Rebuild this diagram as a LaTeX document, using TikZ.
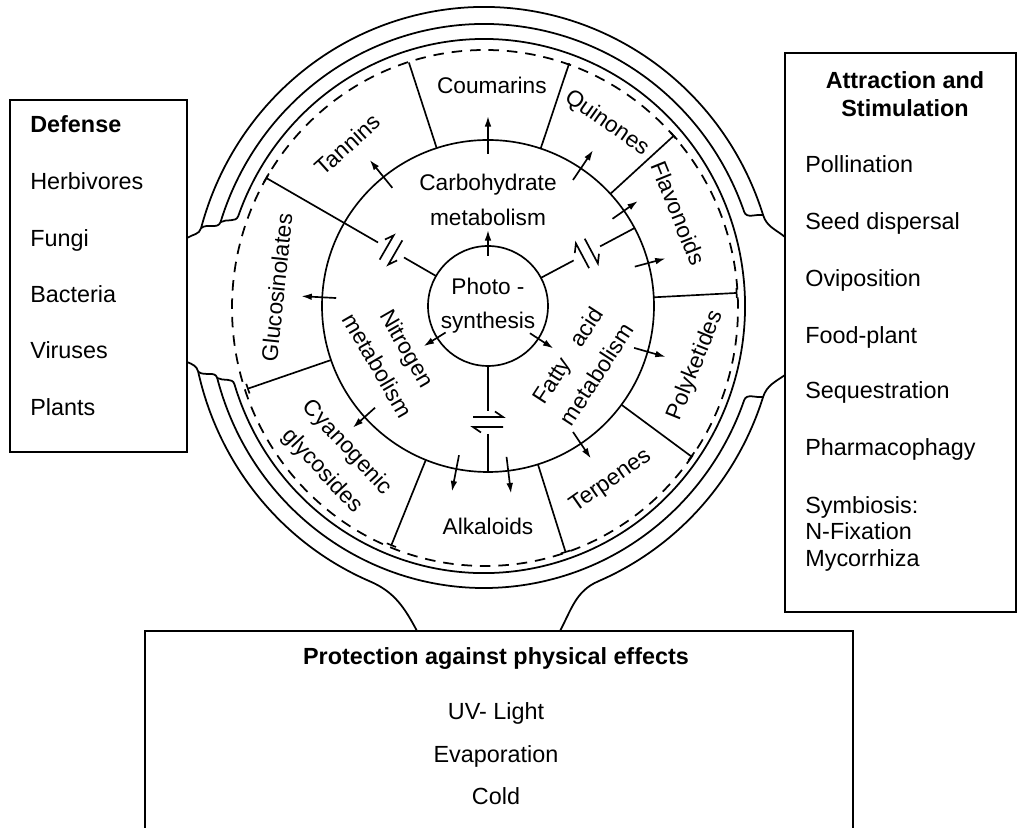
\documentclass[tikz,border=0pt]{standalone}
\usepackage{fontspec}
\setmainfont{Liberation Sans}
\usetikzlibrary{arrows.meta}
\tikzset{
  wall/.style={line width=1pt, draw=black, line join=round},
  membrane/.style={line width=1pt, draw=black, dash pattern=on 6pt off 4.5pt},
  divider/.style={line width=0.95pt, draw=black},
  harpoon/.style={line width=0.95pt, draw=black, line join=miter},
  flux/.style={line width=0.95pt, draw=black, -{Latex[length=6pt,width=3.8pt]}},
  panel/.style={draw=black, line width=1.1pt, inner sep=0pt},
  paneltitle/.style={font=\fontsize{13.3}{16}\selectfont\bfseries, inner sep=0pt},
  panelitem/.style={font=\fontsize{13.3}{16}\selectfont, inner sep=0pt},
  ringlabel/.style={font=\fontsize{12.9}{19.5}\selectfont, align=center, inner sep=0pt},
}
\begin{document}
\begin{tikzpicture}[x=0.02cm,y=0.02cm]
\useasboundingbox (0,0) rectangle (1019,828);
\node[panel, minimum width=3.54cm, minimum height=7.04cm] (defbox) at (98.5,552) {};
\node[panel, minimum width=4.62cm, minimum height=11.18cm] (attrbox) at (900.5,495.5) {};
\node[panel, minimum width=14.16cm, minimum height=4.34cm] (protbox) at (499,88.5) {};
\coordinate (defneckA) at (187,590);
\coordinate (defneckB) at (187,466);
\coordinate (attrneckA) at (785,591);
\coordinate (attrneckB) at (785,453);
\coordinate (protneckA) at (417,197);
\coordinate (protneckB) at (560,197);

\node[paneltitle, anchor=base west] (defense) at (30,695) {Defense};
\node[panelitem, anchor=base west] (herbivores) at (30,638) {Herbivores};
\node[panelitem, anchor=base west] (fungi) at (30,581) {Fungi};
\node[panelitem, anchor=base west] (bacteria) at (30,525) {Bacteria};
\node[panelitem, anchor=base west] (viruses) at (30,469) {Viruses};
\node[panelitem, anchor=base west] (plants) at (30,412) {Plants};

\node[paneltitle, anchor=base] (attractA) at (905,739) {Attraction and};
\node[paneltitle, anchor=base] (attractB) at (905,711) {Stimulation};
\node[panelitem, anchor=base west] (pollination) at (805,655) {Pollination};
\node[panelitem, anchor=base west] (seeddisp) at (805,598) {Seed dispersal};
\node[panelitem, anchor=base west] (oviposition) at (805,541) {Oviposition};
\node[panelitem, anchor=base west] (foodplant) at (805,484) {Food-plant};
\node[panelitem, anchor=base west] (sequestration) at (805,429) {Sequestration};
\node[panelitem, anchor=base west] (pharmaco) at (805,372) {Pharmacophagy};
\node[panelitem, anchor=base west] (symbiosis) at (805,314) {Symbiosis:};
\node[panelitem, anchor=base west] (nfixation) at (805,288) {N-Fixation};
\node[panelitem, anchor=base west] (mycorrhiza) at (805,261) {Mycorrhiza};

\node[paneltitle, anchor=base] (protect) at (496,163) {Protection against physical effects};
\node[panelitem, anchor=base] (uvlight) at (496,108) {UV- Light};
\node[panelitem, anchor=base] (evaporation) at (496,65) {Evaporation};
\node[panelitem, anchor=base] (cold) at (496,23) {Cold};

\begin{scope}[shift={(488,522)}]
\draw[wall] (attrneckA) to[out=141,in=-73] (275.1,90.9) arc[start angle=17.7,end angle=164.9,x radius=293,y radius=299] to[out=255,in=33] (defneckA);
\draw[wall] (defneckB) to[out=-22,in=103] (-289.8,-65.7) arc[start angle=192.7,end angle=247,x radius=293,y radius=299] to[out=-23,in=118] (protneckA);
\draw[wall] (protneckB) to[out=62,in=-157] (110.5,-275.2) arc[start angle=293,end angle=342.3,x radius=293,y radius=299] to[out=72,in=-145] (attrneckB);
\draw[wall] (275.1,90.9) to[out=170,in=-70] (256.2,94.1) arc[start angle=19.5,end angle=162.7,x radius=276,y radius=282] to[out=250,in=40] (-286.9,77.9);
\draw[wall] (-289.8,-65.7) to[out=-40,in=105] (-270.8,-72.0) arc[start angle=194.8,end angle=340.5,x radius=276,y radius=282] to[out=70,in=-170] (275.1,-90.9);
\draw[wall] (-270.8,-72.0) to[out=-30,in=107] (-253.6,-78.1) arc[start angle=-163,end angle=160.3,x radius=261,y radius=267] to[out=250,in=30] (-267.5,83.9);
\draw[membrane] (-3,-2) ellipse[x radius=253,y radius=258];

\draw[divider] (0,0) circle[radius=166];
\node[draw, circle, line width=0.95pt, minimum size=2.4cm, ringlabel] (photo) at (0,0) {Photo -\\synthesis};

\draw[divider] (150:60) -- (150:97);
\draw[divider] (150:127) -- (150:256);
\draw[divider] (148.85:256) -- (151.15:256);
\draw[divider] (28:60) -- (28:97);
\draw[divider] (28:127) -- (28:166);
\draw[divider] (-90:60) -- (-90:105);
\draw[divider] (-90:128) -- (-90:166);

\begin{scope}[shift={(150:112)}, rotate=60]
\draw[harpoon] (-14,5) -- (14,5) -- (6,10.5);
\draw[harpoon] (14,-5) -- (-14,-5) -- (-6,-10.5);
\end{scope}
\begin{scope}[shift={(28:112)}, rotate=-62]
\draw[harpoon] (-14,5) -- (14,5) -- (6,10.5);
\draw[harpoon] (14,-5) -- (-14,-5) -- (-6,-10.5);
\end{scope}
\begin{scope}[shift={(-90:116)}]
\draw[harpoon] (-15,5) -- (15,5) -- (7,10.5);
\draw[harpoon] (15,-5) -- (-15,-5) -- (-7,-10.5);
\end{scope}

\draw[divider] (108:166) -- (108:256);
\draw[divider] (71.5:166) -- (71.5:256);
\draw[divider] (42.5:166) -- (42.5:252);
\draw[divider] (41.35:252) -- (43.65:252);
\draw[divider] (3:166) -- (3:249);
\draw[divider] (1.85:249) -- (4.15:249);
\draw[divider] (-36.5:166) -- (-36.5:253);
\draw[divider] (-37.65:253) -- (-35.35:253);
\draw[divider] (-72.5:166) -- (-72.5:258);
\draw[divider] (-73.6:258) -- (-71.4:258);
\draw[divider] (-112:166) -- (-112:258);
\draw[divider] (-113.1:258) -- (-110.9:258);
\draw[divider] (-161:166) -- (-161:254);
\draw[divider] (-162.15:254) -- (-159.85:254);

\draw[flux] (90:50) -- (90:76);
\draw[flux] (-148:50) -- (-148:76);
\draw[flux] (-33:50) -- (-33:78);

\draw[flux] (90:152) -- (90:190);
\draw[flux] (129:152) -- (129:188);
\draw[flux] (56:152) -- (56:188);
\draw[flux] (35:152) -- (35:183);
\draw[flux] (15:152) -- (15:184);
\draw[flux] (-16:152) -- (-16:185);
\draw[flux] (-56:152) -- (-56:184);
\draw[flux] (-83:152) -- (-83:189);
\draw[flux] (-101:152) -- (-101:189);
\draw[flux] (-138:152) -- (-138:182);
\draw[flux] (177:152) -- (177:187);

\node[ringlabel] (carbo) at (90:106) {Carbohydrate\\metabolism};
\node[ringlabel, rotate=-60] (nitro) at (-152:108) {Nitrogen\\metabolism};
\node[ringlabel, rotate=57] (fatty) at (-32:111) {Fatty\hspace{0.5em} acid\\metabolism};

\node[ringlabel] (coumarins) at (89:221) {Coumarins};
\node[ringlabel, rotate=-35] (quinones) at (57:218) {Quinones};
\node[ringlabel, rotate=-68] (flavonoids) at (26:212) {Flavonoids};
\node[ringlabel, rotate=68] (polyketides) at (-16:216) {Polyketides};
\node[ringlabel, rotate=35] (terpenes) at (-55:214) {Terpenes};
\node[ringlabel] (alkaloids) at (-90:220) {Alkaloids};
\node[ringlabel, rotate=-47] (cyano) at (-135:217) {Cyanogenic\\glycosides};
\node[ringlabel, rotate=84] (glucosin) at (175:212) {Glucosinolates};
\node[ringlabel, rotate=42] (tannins) at (131:214) {Tannins};
\end{scope}
\end{tikzpicture}
\end{document}
